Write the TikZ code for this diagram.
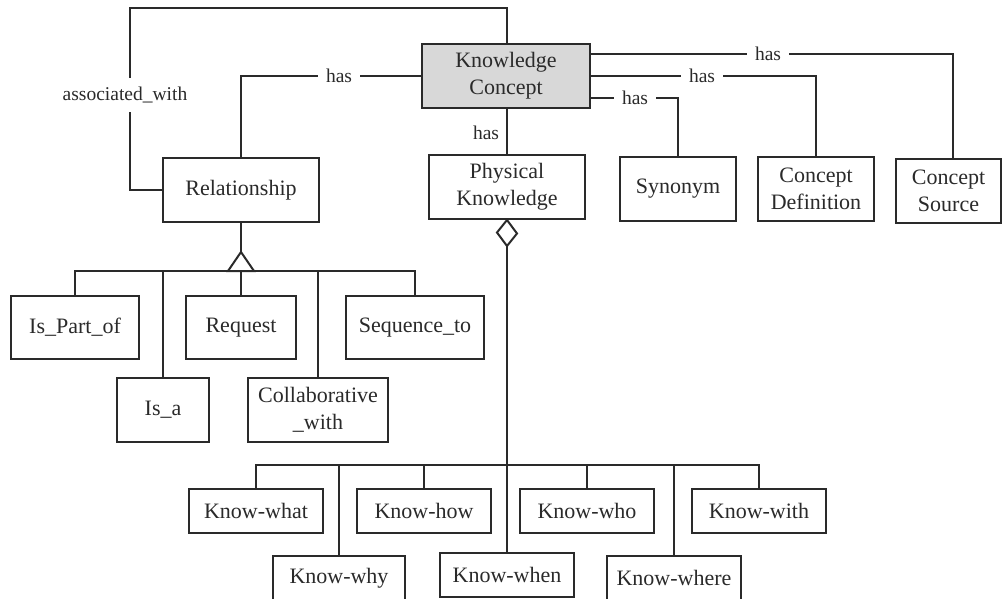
\documentclass[tikz,border=0pt]{standalone}
\usepackage{fontspec}
\setmainfont{Liberation Serif}
\definecolor{ink}{HTML}{2A2A2A}
\definecolor{kcfill}{HTML}{D8D8D8}
\begin{document}
\begin{tikzpicture}[x=1pt,y=-1pt,color=ink,line width=2pt,
  box/.style={draw, fill=white, inner sep=0pt, align=center,
    font=\fontsize{22}{27}\selectfont},
  lbl/.style={fill=white, inner xsep=8pt, inner ysep=4pt,
    font=\fontsize{19.5}{22}\selectfont},
  plain/.style={inner sep=0pt, font=\fontsize{19.5}{22}\selectfont},
  hollow/.style={draw, fill=white, line join=miter}]
\useasboundingbox (0,0) rectangle (1003,598);

% central concept and its attributes
\node[box, fill=kcfill, minimum width=168pt, minimum height=64pt] (kc) at (506,76) {Knowledge\\Concept};
\node[box, minimum width=156pt, minimum height=64pt] (rel) at (241,190) {Relationship};
\node[box, minimum width=156pt, minimum height=64pt] (pk) at (507,187) {Physical\\Knowledge};
\node[box, minimum width=116pt, minimum height=64pt] (syn) at (678,189) {Synonym};
\node[box, minimum width=116pt, minimum height=64pt] (cd) at (816,189) {Concept\\Definition};
\node[box, minimum width=105pt, minimum height=64pt] (cs) at (948.5,191) {Concept\\Source};

% kinds of relationship
\node[box, minimum width=128pt, minimum height=63pt] (ipo) at (75,327.5) {Is\_Part\_of};
\node[box, minimum width=92pt, minimum height=64pt] (isa) at (163,410) {Is\_a};
\node[box, minimum width=110pt, minimum height=63pt] (req) at (241,327.5) {Request};
\node[box, minimum width=140pt, minimum height=64pt] (col) at (318,410) {Collaborative\\\_with};
\node[box, minimum width=138pt, minimum height=63pt] (seq) at (415,327.5) {Sequence\_to};

% kinds of physical knowledge
\node[box, minimum width=134pt, minimum height=44pt] (kwhat) at (256,511) {Know-what};
\node[box, minimum width=134pt, minimum height=44pt] (khow) at (424,511) {Know-how};
\node[box, minimum width=134pt, minimum height=44pt] (kwho) at (587,511) {Know-who};
\node[box, minimum width=134pt, minimum height=44pt] (kwith) at (759,511) {Know-with};
\node[box, minimum width=132pt, minimum height=44pt] (kwhy) at (339,578) {Know-why};
\node[box, minimum width=134pt, minimum height=44pt] (kwhen) at (507,575) {Know-when};
\node[box, minimum width=134pt, minimum height=44pt] (kwhere) at (674,578) {Know-where};

% associations of the knowledge concept
\coordinate (loop) at (130,8);
\draw (kc.north -| 507,0) |- (loop) |- (rel.west);
\node[lbl, inner ysep=9pt] (aw) at (125,95) {associated\_with};

\draw (rel.north) |- (kc.west);
\node[lbl] (h1) at (339,76) {has};

\draw (kc.south -| pk.north) -- (pk.north);
\node[plain] (h2) at (486,133) {has};

\coordinate (csin) at ([xshift=4.5pt]cs.north);
\draw (kc.east |- 0,54) -| (csin);
\node[lbl] (h3) at (768,54) {has};
\draw (kc.east |- 0,76) -| (cd.north);
\node[lbl] (h4) at (702,76) {has};
\draw (kc.east |- 0,98) -| (syn.north);
\node[lbl] (h5) at (635,98) {has};

% generalisation of relationship
\coordinate (apex) at (241,252);
\coordinate (rbus) at (241,271);
\draw (rel.south) -- (apex);
\draw (ipo.north) -- (ipo.north |- rbus) -- (seq.north |- rbus) -- (seq.north);
\foreach \c in {isa,req,col}
  \draw (\c.north) -- (\c.north |- rbus);
\draw[hollow] (apex) -- (228,271) -- (254,271) -- cycle;

% aggregation of physical knowledge
\coordinate (dtip) at (507,246);
\coordinate (kbus) at (507,465);
\draw (dtip) -- (kwhen.north);
\draw (kwhat.north) -- (kwhat.north |- kbus) -- (kwith.north |- kbus) -- (kwith.north);
\foreach \c in {khow,kwho,kwhy,kwhere}
  \draw (\c.north) -- (\c.north |- kbus);
\draw[hollow] (pk.south) -- ++(10,13.5) -- (dtip) -- ++(-10,-13.5) -- cycle;
\end{tikzpicture}
\end{document}
